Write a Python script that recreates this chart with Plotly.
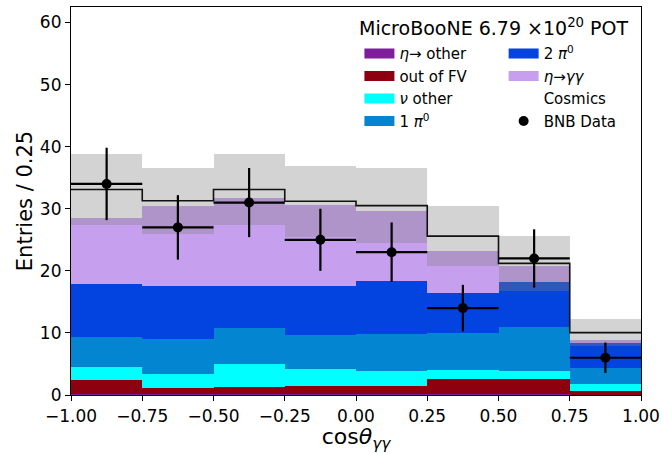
import numpy as np
import plotly.graph_objects as go

# ---- data ----
bin_edges = [-1.0, -0.75, -0.5, -0.25, 0.0, 0.25, 0.5, 0.75, 1.0]
eta_other = [0.1, 0.1, 0.15, 0.1, 0.1, 0.15, 0.1, 0.05]
out_fv    = [2.3, 1.1, 1.15, 1.4, 1.4, 2.35, 2.4, 0.65]
nu_other  = [2.1, 2.2, 3.7, 2.7, 2.4, 1.5, 1.4, 1.1]
one_pi0   = [4.85, 5.6, 5.8, 5.4, 6.0, 6.0, 7.1, 2.55]
two_pi0   = [8.55, 8.6, 6.7, 8.0, 8.4, 6.45, 7.2, 4.1]
eta_gg    = [10.6, 12.9, 14.3, 13.0, 11.3, 6.75, 2.5, 0.45]
cosmics   = [4.6, 0.8, 1.3, 0.6, 0.9, 2.4, 0.5, 1.15]
mc_unc    = [5.7, 5.3, 5.7, 5.7, 6.0, 4.9, 4.4, 2.2]
bnb_data  = [34, 27, 31, 25, 23, 14, 22, 6]

layers = [
    ("<i>η</i>→ other", eta_other, "#7e1e9c"),
    ("out of FV", out_fv, "#8c000f"),
    ("<i>ν</i> other", nu_other, "#00ffff"),
    ("1 <i>π</i><sup>0</sup>", one_pi0, "#0485d1"),
    ("2 <i>π</i><sup>0</sup>", two_pi0, "#0343df"),
    ("<i>η</i>→<i>γγ</i>", eta_gg, "#c79fef"),
    ("Cosmics", cosmics, "#ffffff"),
]

edges = np.array(bin_edges)
centers = 0.5 * (edges[:-1] + edges[1:])
widths = np.diff(edges)

fig = go.Figure()
base = np.zeros(len(centers))
for name, vals, col in layers:
    v = np.array(vals, dtype=float)
    fig.add_trace(go.Bar(x=centers, y=v, base=base.copy(), width=widths,
                         marker=dict(color=col, line=dict(width=0)),
                         showlegend=False, hoverinfo="skip"))
    base = base + v
total = base

# uncertainty band
unc = np.array(mc_unc)
fig.add_trace(go.Bar(x=centers, y=2 * unc, base=total - unc, width=widths,
                     marker=dict(color="rgba(128,128,128,0.35)", line=dict(width=0)),
                     showlegend=False, hoverinfo="skip"))

# total MC step line
fig.add_trace(go.Scatter(x=edges, y=np.append(total, total[-1]), mode="lines",
                         line=dict(shape="hv", color="#111111", width=1.6),
                         showlegend=False, hoverinfo="skip"))

# data
d = np.array(bnb_data, dtype=float)
fig.add_trace(go.Scatter(x=centers, y=d, mode="markers",
                         marker=dict(color="black", size=10),
                         error_y=dict(type="data", array=np.sqrt(d), color="black",
                                      thickness=2.2, width=0),
                         error_x=dict(type="data", array=widths / 2, color="black",
                                      thickness=2.2, width=0),
                         showlegend=False, hoverinfo="skip"))

# legend entries
leg1 = layers[:4]
leg2 = layers[4:]
for name, vals, col in leg1:
    fig.add_trace(go.Scatter(x=[None], y=[None], mode="lines", name=name,
                             line=dict(color=col, width=11), legend="legend"))
for name, vals, col in leg2:
    fig.add_trace(go.Scatter(x=[None], y=[None], mode="lines", name=name,
                             line=dict(color=col, width=11), legend="legend2"))
fig.add_trace(go.Scatter(x=[None], y=[None], mode="markers", name="BNB Data",
                         marker=dict(color="black", size=10, symbol="circle"),
                         legend="legend2"))

font_family = "DejaVu Sans"
legfont = dict(family=font_family, size=15, color="black")
fig.update_layout(
    width=662, height=453,
    margin=dict(l=71, r=21, t=7, b=58),
    plot_bgcolor="white", paper_bgcolor="white",
    barmode="overlay", bargap=0,
    font=dict(family=font_family, color="black"),
    legend=dict(x=0.506, y=0.922, xanchor="left", yanchor="top",
                bgcolor="rgba(0,0,0,0)", font=legfont, itemclick=False,
                traceorder="normal"),
    legend2=dict(x=0.759, y=0.922, xanchor="left", yanchor="top",
                 bgcolor="rgba(0,0,0,0)", font=legfont, itemclick=False,
                 traceorder="normal"),
    annotations=[dict(text="MicroBooNE 6.79 ×10<sup>20</sup> POT", x=0.742, y=0.948,
                      xref="paper", yref="paper", xanchor="center", yanchor="middle",
                      showarrow=False,
                      font=dict(family=font_family, size=19, color="black"))],
)
fig.update_xaxes(range=[-1, 1], tickvals=bin_edges, tickformat=".2f",
                 ticks="outside", ticklen=5, tickcolor="black",
                 showline=True, linecolor="black", linewidth=1.2, mirror=True,
                 showgrid=False, zeroline=False, automargin=False,
                 tickfont=dict(size=17, family=font_family),
                 title=dict(text="cos<i>θ</i><sub><i>γγ</i></sub>",
                            font=dict(size=22, family=font_family), standoff=6))
fig.update_yaxes(range=[0, 62.5], tickvals=[0, 10, 20, 30, 40, 50, 60],
                 ticks="outside", ticklen=5, tickcolor="black",
                 showline=True, linecolor="black", linewidth=1.2, mirror=True,
                 showgrid=False, zeroline=False, automargin=False,
                 tickfont=dict(size=17, family=font_family),
                 title=dict(text="Entries / 0.25",
                            font=dict(size=21, family=font_family), standoff=1))

fig.write_html("out.html")
